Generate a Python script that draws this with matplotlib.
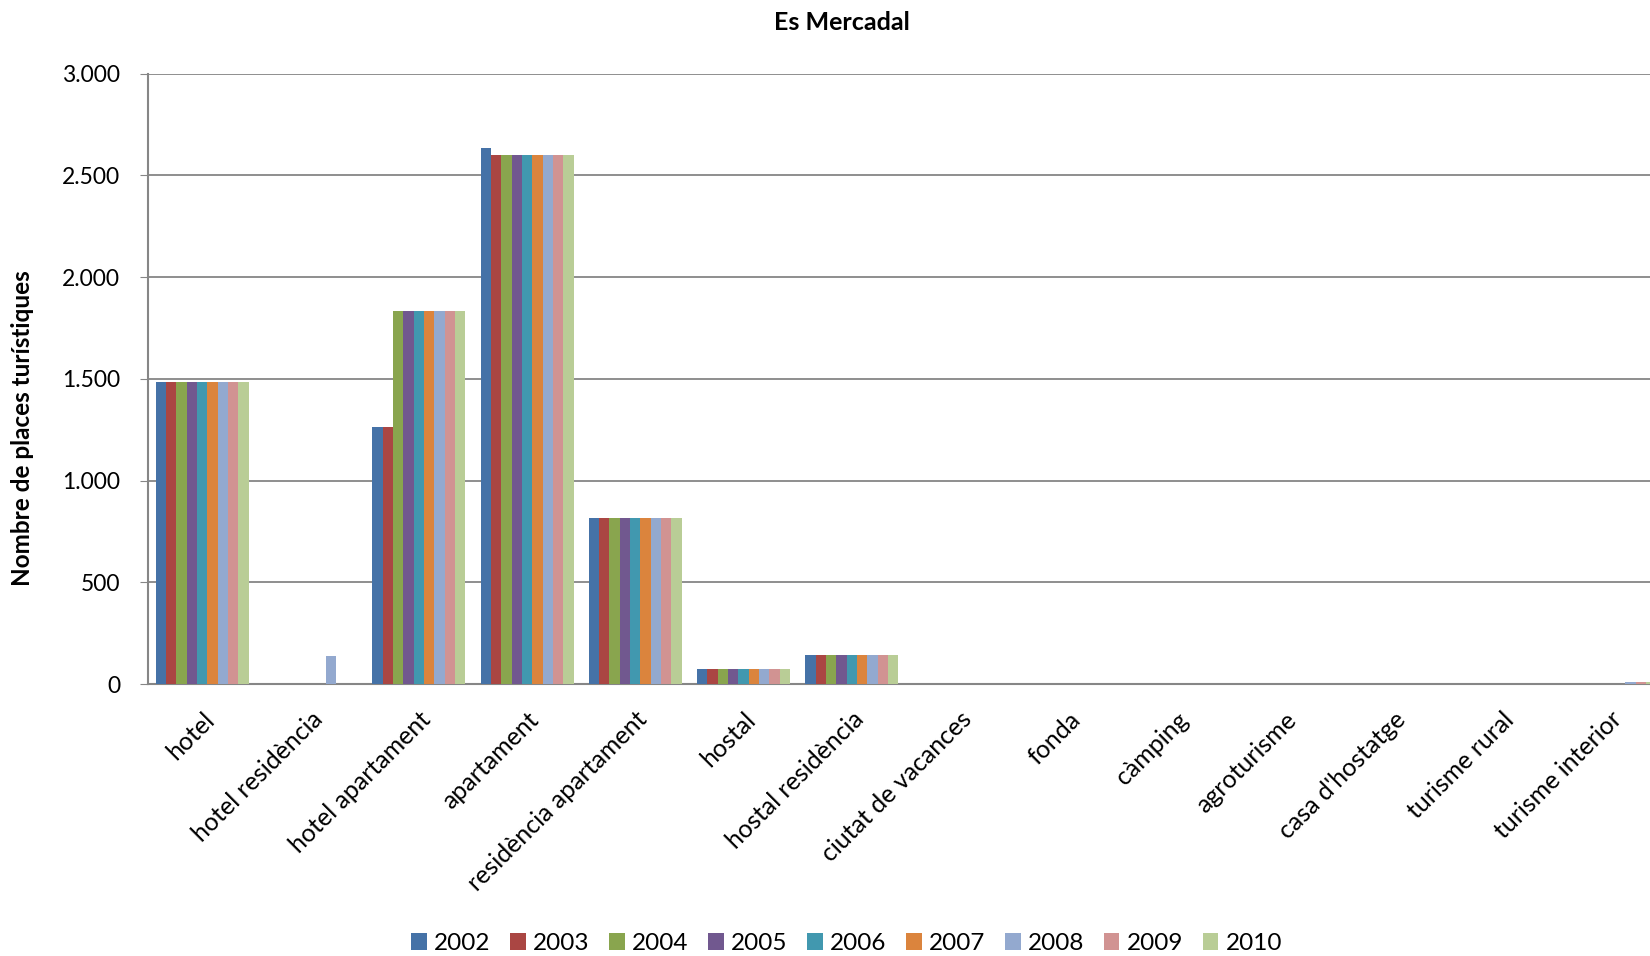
import matplotlib
matplotlib.use("Agg")
import matplotlib.pyplot as plt
import numpy as np
from matplotlib.ticker import FuncFormatter, MultipleLocator

plt.rcParams['font.family'] = ['Lato', 'DejaVu Sans']

categories = ["hotel", "hotel residència", "hotel apartament", "apartament",
              "residència apartament", "hostal", "hostal residència",
              "ciutat de vacances", "fonda", "càmping", "agroturisme",
              "casa d'hostatge", "turisme rural", "turisme interior"]
years = ["2002", "2003", "2004", "2005", "2006", "2007", "2008", "2009", "2010"]

v2002 = [1483, 0, 1262, 2634, 814, 76, 142, 0, 0, 0, 0, 0, 0, 0]
v2003 = [1483, 0, 1262, 2602, 814, 76, 142, 0, 0, 0, 0, 0, 0, 0]
v2004 = [1483, 0, 1834, 2602, 814, 76, 142, 0, 0, 0, 0, 0, 0, 0]
v2005 = [1483, 0, 1834, 2602, 814, 76, 142, 0, 0, 0, 0, 0, 0, 0]
v2006 = [1483, 0, 1834, 2602, 814, 76, 142, 0, 0, 0, 0, 0, 0, 0]
v2007 = [1483, 0, 1834, 2602, 814, 76, 142, 0, 0, 0, 0, 0, 0, 0]
v2008 = [1483, 140, 1834, 2602, 814, 76, 142, 0, 0, 0, 0, 0, 0, 12]
v2009 = [1483, 0, 1834, 2602, 814, 76, 142, 0, 0, 0, 0, 0, 0, 12]
v2010 = [1483, 0, 1834, 2602, 814, 76, 142, 0, 0, 0, 0, 0, 0, 12]
series = [v2002, v2003, v2004, v2005, v2006, v2007, v2008, v2009, v2010]

colors = ["#4572A7", "#AA4643", "#89A54E", "#71588F", "#4198AF",
          "#DB843D", "#93A9CF", "#D19392", "#B9CD96"]

fig = plt.figure(figsize=(16.5, 9.56), dpi=100)
ax = fig.add_axes([0.0897, 0.2845, 0.9188, 0.6385])

n = len(series)
group = 0.859
bw = group / n
x = np.arange(len(categories))
for i, (vals, c, y) in enumerate(zip(series, colors, years)):
    ax.bar(x - group / 2 + bw * (i + 0.5), vals, width=bw, color=c,
           edgecolor='none', label=y, zorder=3)

ax.set_xlim(-0.5, len(categories) - 0.5)
ax.set_ylim(0, 3000)
ax.yaxis.set_major_locator(MultipleLocator(500))
ax.yaxis.set_major_formatter(FuncFormatter(lambda v, p: f"{int(v):,}".replace(",", ".")))
ax.grid(axis='y', color='#868686', linewidth=1.3, zorder=0)
for s in ['top', 'right']:
    ax.spines[s].set_visible(False)
for s in ['left', 'bottom']:
    ax.spines[s].set_color('#868686')
    ax.spines[s].set_linewidth(1.5)
ax.tick_params(axis='y', length=6, color='#868686', labelsize=16.5, pad=14)
ax.tick_params(axis='x', length=0, labelsize=18, pad=17)
ax.set_xticks(x)
ax.set_xticklabels(categories, rotation=45, ha='right', rotation_mode='anchor')

ax.set_ylabel("Nombre de places turístiques", fontsize=17.5, fontweight='bold')
ax.yaxis.set_label_coords(-0.075, 0.42)
fig.text(0.51, 0.976, "Es Mercadal", ha='center', va='center', fontsize=18, fontweight='bold')

leg = fig.legend(loc='center', bbox_to_anchor=(0.513, 0.013), ncol=9, frameon=False,
                 fontsize=17.5, handlelength=0.65, handleheight=0.65, handletextpad=0.3,
                 columnspacing=0.8)

fig.savefig("out.png", dpi=100)
